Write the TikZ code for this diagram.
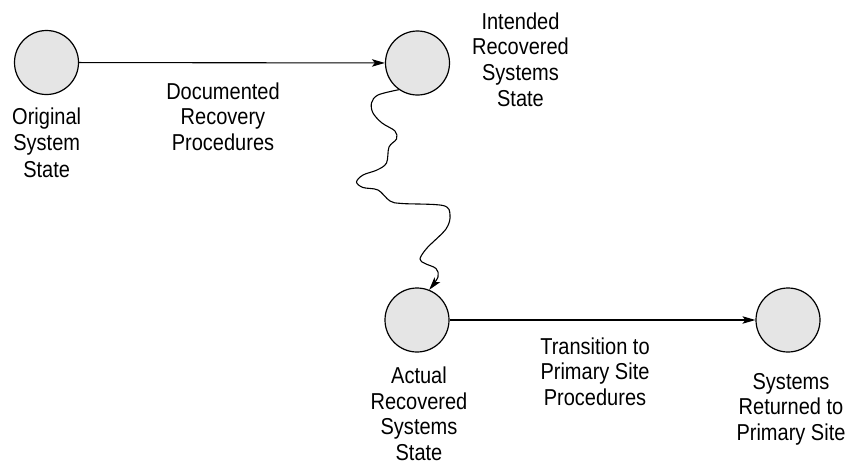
\documentclass[tikz,border=0pt]{standalone}
\usepackage{fontspec}
\setmainfont{Liberation Sans}[FakeStretch=0.87]
\usetikzlibrary{arrows.meta}
\definecolor{statefill}{HTML}{E5E5E5}
\tikzset{
  state/.style={circle, draw=black, fill=statefill, line width=1.2pt, minimum size=64pt, inner sep=0pt},
  lbl/.style={align=center, inner sep=0pt, anchor=base, font=\fontsize{23}{25.6}\selectfont},
  flow/.style={line width=1.1pt, -{Stealth[length=13pt,width=7.5pt,inset=3pt]}}
}
\begin{document}
\begin{tikzpicture}[x=1pt,y=-1pt]
\useasboundingbox (0,0) rectangle (847,464);
\node[state] (c1) at (46.5,62.5) {};
\node[state] (c2) at (417.5,63) {};
\node[state] (c3) at (417,320) {};
\node[state] (c4) at (788,320) {};
% anchor=base is the baseline of the last line
\node[lbl, font=\fontsize{23}{26.4}\selectfont] (l1) at (46.7,177) {Original\\System\\State};
\node[lbl] (l2) at (223,150.5) {Documented\\Recovery\\Procedures};
\node[lbl] (l3) at (520.5,106.1) {Intended\\Recovered\\Systems\\State};
\node[lbl] (l4) at (419,460.5) {Actual\\Recovered\\Systems\\State};
\node[lbl] (l5) at (595,405.5) {Transition to\\Primary Site\\Procedures};
\node[lbl] (l6) at (791,440.5) {Systems\\Returned to\\Primary Site};
\draw[flow] (c1) -- (c2);
\draw[flow] (c3) -- (c4);
\draw[flow] plot[smooth, tension=0.55] coordinates {(c2.235) (378,95) (371.5,103) (373,113) (382,123) (395,131) (396.5,139) (389,147) (386.5,163) (377,170) (363,175) (356.5,182) (363,187.5) (378,190) (390,201) (402,203.5) (443,205.5) (450,215) (446,229) (427,248) (420,259) (425,263.5) (436,268.5) (438,277) (c3.68)};
\end{tikzpicture}
\end{document}
